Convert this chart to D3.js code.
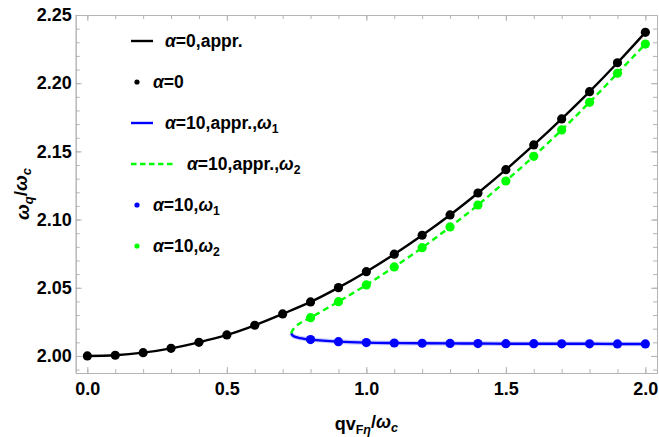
<!DOCTYPE html>
<html lang="en">
<head>
<meta charset="UTF-8">
<title>omega_q vs q v_F</title>
<script src="https://d3js.org/d3.v7.min.js"></script>
<style>
    body { margin: 0; background: #fff; }
    svg text { font-family: "Liberation Sans", Arial, sans-serif; font-weight: bold; fill: #000; }
    .frame line, .frame path { stroke: #b4b4b4; }
</style>
</head>
<body>
<svg width="659" height="437"></svg>
<script>
    // q v_F / omega_c sample points
    const qAll = [0.0, 0.1, 0.2, 0.3, 0.4, 0.5, 0.6, 0.7, 0.8, 0.9, 1.0,
                  1.1, 1.2, 1.3, 1.4, 1.5, 1.6, 1.7, 1.8, 1.9, 2.0];
    // alpha = 0
    const wAlpha0 = [2.0000, 2.0005, 2.0024, 2.0056, 2.0100, 2.0154, 2.0225, 2.0308, 2.0396, 2.0501, 2.0618,
                     2.0746, 2.0885, 2.1034, 2.1195, 2.1366, 2.1547, 2.1738, 2.1938, 2.2150, 2.2373];
    // alpha = 10 branches
    const q10 = [0.8, 0.9, 1.0, 1.1, 1.2, 1.3, 1.4, 1.5, 1.6, 1.7, 1.8, 1.9, 2.0];
    const w1 = [2.0120, 2.0105, 2.0098, 2.0095, 2.0093, 2.0092, 2.0091, 2.0090, 2.0090, 2.0089, 2.0089, 2.0088, 2.0088];
    const w2 = [2.0281, 2.0398, 2.0521, 2.0653, 2.0794, 2.0946, 2.1107, 2.1283, 2.1464, 2.1657, 2.1860, 2.2073, 2.2287];
    // approximate curves near the branch point
    const qTurn = [0.7307, 0.738, 0.762];
    const w1Turn = [2.0166, 2.0146, 2.0131];
    const w2Turn = [2.0166, 2.0196, 2.0240];

    const xMajor = [0, 0.5, 1, 1.5, 2];
    const yMajor = [2.00, 2.05, 2.10, 2.15, 2.20, 2.25];

    const svg = d3.select("svg");
    const L = 75.7, R = 657, T = 15, B = 373;

    const x = d3.scaleLinear().domain([-0.0417, 2.0417]).range([L, R]);
    const y = d3.scaleLinear().domain([1.9875, 2.25]).range([B, T]);

    const xMinor = d3.range(0, 21).map(i => i / 10);
    const yMinor = d3.range(199, 226).map(i => i / 100);

    // frame + ticks (inward)
    const frame = svg.append("g").attr("class", "frame");
    function addAxis(axisFn, scale, vals, size, tr, labels, pad) {
        const g = frame.append("g").attr("transform", tr)
            .call(axisFn(scale).tickValues(vals).tickSizeInner(-size).tickSizeOuter(0)
                .tickPadding(labels ? pad : 0)
                .tickFormat(labels ? labels : ""));
        g.select(".domain").attr("stroke", "#b4b4b4");
        g.selectAll(".tick line").attr("stroke", "#b4b4b4");
        return g;
    }
    addAxis(d3.axisBottom, x, xMinor, 4, `translate(0,${B})`, null);
    const gx = addAxis(d3.axisBottom, x, xMajor, 6, `translate(0,${B})`, d3.format(".1f"), 9);
    addAxis(d3.axisTop, x, xMinor, 4, `translate(0,${T})`, null);
    addAxis(d3.axisTop, x, xMajor, 6, `translate(0,${T})`, null);
    addAxis(d3.axisLeft, y, yMinor, 4, `translate(${L},0)`, null);
    const gy = addAxis(d3.axisLeft, y, yMajor, 6, `translate(${L},0)`, d3.format(".2f"), 4);
    addAxis(d3.axisRight, y, yMinor, 4, `translate(${R},0)`, null);
    addAxis(d3.axisRight, y, yMajor, 6, `translate(${R},0)`, null);

    gx.selectAll(".tick text").attr("font-size", 18).attr("dy", "0.72em");
    gy.selectAll(".tick text").attr("font-size", 18);

    const plot = svg.append("g");
    const line = d3.line().x(d => x(d[0])).y(d => y(d[1])).curve(d3.curveCatmullRom.alpha(0.5));

    const black = qAll.map((q, i) => [q, wAlpha0[i]]);
    const blueLine = qTurn.map((q, i) => [q, w1Turn[i]]).concat(q10.map((q, i) => [q, w1[i]]));
    const greenLine = qTurn.map((q, i) => [q, w2Turn[i]]).concat(q10.map((q, i) => [q, w2[i]]));

    plot.append("path").attr("d", line(black)).attr("fill", "none")
        .attr("stroke", "#000").attr("stroke-width", 2.4);
    plot.append("path").attr("d", line(blueLine)).attr("fill", "none")
        .attr("stroke", "rgba(0,0,255,0.2)").attr("stroke-width", 4.6);
    plot.append("path").attr("d", line(blueLine)).attr("fill", "none")
        .attr("stroke", "#0000ff").attr("stroke-width", 2.4);
    plot.append("path").attr("d", line(greenLine)).attr("fill", "none")
        .attr("stroke", "#00ff00").attr("stroke-width", 2.4).attr("stroke-dasharray", "6,4");

    function dots(data, color) {
        plot.append("g").selectAll("circle").data(data).enter().append("circle")
            .attr("cx", d => x(d[0])).attr("cy", d => y(d[1])).attr("r", 4.6).attr("fill", color);
    }
    dots(black, "#000");
    dots(q10.map((q, i) => [q, w1[i]]), "#0000ff");
    dots(q10.map((q, i) => [q, w2[i]]), "#00ff00");

    // legend
    const leg = svg.append("g");
    const legFs = 17.5;
    function legText(tx, ty, parts) {
        const t = leg.append("text").attr("x", tx).attr("y", ty).attr("font-size", legFs);
        parts.forEach(p => {
            const s = t.append("tspan").text(p[0]);
            if (p[1] === "i") s.attr("font-style", "italic");
            if (p[1] === "sub") s.attr("font-size", legFs * 0.7).attr("dy", "0.3em");
        });
        return t;
    }
    const rows = [41, 82, 123, 164, 205, 246];
    // 1: black line
    leg.append("line").attr("x1", 131).attr("x2", 153).attr("y1", rows[0]).attr("y2", rows[0])
        .attr("stroke", "#000").attr("stroke-width", 2.4);
    legText(165, rows[0] + 6, [["α", "i"], ["=0,appr."]]);
    // 2: black dot
    leg.append("circle").attr("cx", 137).attr("cy", rows[1]).attr("r", 2.6).attr("fill", "#000");
    legText(153, rows[1] + 6, [["α", "i"], ["=0"]]);
    // 3: blue line
    leg.append("line").attr("x1", 131).attr("x2", 153).attr("y1", rows[2]).attr("y2", rows[2])
        .attr("stroke", "#0000ff").attr("stroke-width", 2.4);
    legText(165, rows[2] + 6, [["α", "i"], ["=10,appr.,"], ["ω", "i"], ["1", "sub"]]);
    // 4: green dashed
    leg.append("line").attr("x1", 131).attr("x2", 176).attr("y1", rows[3]).attr("y2", rows[3])
        .attr("stroke", "#00ff00").attr("stroke-width", 2.4).attr("stroke-dasharray", "5.5,3.5");
    legText(187, rows[3] + 6, [["α", "i"], ["=10,appr.,"], ["ω", "i"], ["2", "sub"]]);
    // 5: blue dot
    leg.append("circle").attr("cx", 137).attr("cy", rows[4]).attr("r", 2.6).attr("fill", "#0000ff");
    legText(153, rows[4] + 6, [["α", "i"], ["=10,"], ["ω", "i"], ["1", "sub"]]);
    // 6: green dot
    leg.append("circle").attr("cx", 137).attr("cy", rows[5]).attr("r", 2.6).attr("fill", "#00ff00");
    legText(153, rows[5] + 6, [["α", "i"], ["=10,"], ["ω", "i"], ["2", "sub"]]);

    // axis titles
    const xt = svg.append("text").attr("x", (L + R) / 2).attr("y", 430)
        .attr("text-anchor", "middle").attr("font-size", 18);
    xt.append("tspan").text("qv");
    xt.append("tspan").text("F").attr("font-size", 12.5).attr("dy", "0.3em");
    xt.append("tspan").text("η").attr("font-size", 12.5).attr("font-style", "italic");
    xt.append("tspan").text("/").attr("dy", "-0.3em");
    xt.append("tspan").text("ω").attr("font-style", "italic");
    xt.append("tspan").text("c").attr("font-size", 12.5).attr("font-style", "italic").attr("dy", "0.3em");

    const yt = svg.append("text").attr("transform", `translate(29,${(T + B) / 2}) rotate(-90)`)
        .attr("text-anchor", "middle").attr("font-size", 19);
    yt.append("tspan").text("ω").attr("font-style", "italic");
    yt.append("tspan").text("q").attr("font-size", 13).attr("font-style", "italic").attr("dy", "0.3em");
    yt.append("tspan").text("/").attr("dy", "-0.3em");
    yt.append("tspan").text("ω").attr("font-style", "italic");
    yt.append("tspan").text("c").attr("font-size", 13).attr("font-style", "italic").attr("dy", "0.3em");
</script>
</body>
</html>
